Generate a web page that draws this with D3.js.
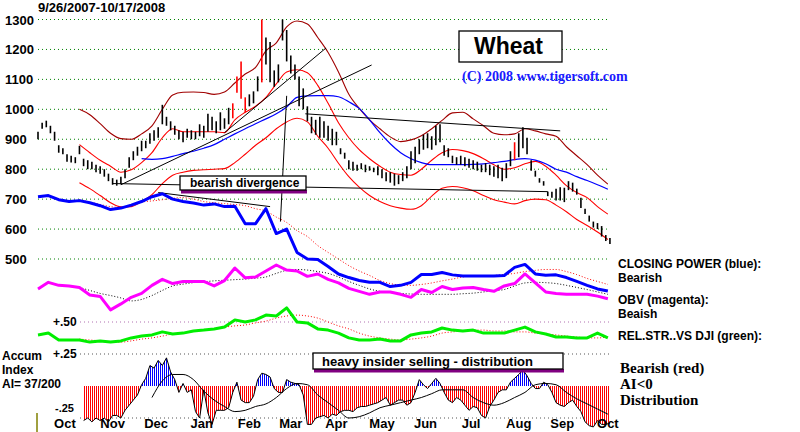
<!DOCTYPE html>
<html><head><meta charset="utf-8">
<script src="https://cdn.jsdelivr.net/npm/d3@7"></script>
<style>body{margin:0;background:#fff}svg{display:block}text{font-family:"Liberation Sans",Arial,sans-serif;font-weight:bold}</style>
</head><body><svg id="c" width="800" height="432"></svg>
<script>
// ---------------- DATA ----------------
const startDate = "2007-09-26";
const lastTradingIndex = 277;
const barStep = 2;      // one bar every 2 trading days
const weekStep = 5;     // weekly series
const priceTicks = [1300,1200,1100,1000,900,800,700,600,500];
const monthNames = ["Oct","Nov","Dec","Jan","Feb","Mar","Apr","May","Jun","Jul","Aug","Sep","Oct"];
const monthDates = ["2007-10-15","2007-11-15","2007-12-14","2008-01-15","2008-02-15","2008-03-14","2008-04-15","2008-05-15","2008-06-13","2008-07-15","2008-08-15","2008-09-15","2008-10-15"];

const priceHigh = [925,955,962,945,925,880,870,850,845,840,878,835,830,825,815,810,800,785,770,765,
775,800,840,860,875,895,895,920,930,940,1015,975,960,945,930,925,935,930,925,950,
945,985,975,960,990,970,1005,1020,1110,1160,1040,1050,1060,1110,1300,1240,1225,1130,1150,1300,
1265,1180,1150,1110,1070,1010,975,965,975,960,945,935,925,870,855,830,825,815,820,815,
810,805,810,800,790,790,785,780,790,810,860,875,900,915,920,910,945,950,880,870,
845,840,845,840,835,830,825,815,820,815,810,815,805,820,860,890,920,940,905,830,
795,770,760,725,725,735,740,738,760,755,735,705,668,645,625,620,610,580,570];
const priceLow = [900,935,940,920,895,855,850,825,822,820,850,810,800,800,790,785,775,760,748,745,
750,770,805,830,845,860,870,885,895,905,950,945,930,915,900,890,905,900,900,910,
905,925,930,920,930,935,950,970,1055,1035,990,1010,1020,1060,1090,1150,1090,1075,1090,1230,
1160,1120,1100,1010,1000,960,920,915,905,905,895,880,880,850,835,800,795,795,800,790,
795,790,780,770,760,755,745,750,760,770,800,820,850,865,870,865,880,890,845,840,
820,815,815,810,805,800,795,790,790,780,775,770,760,770,810,830,840,870,850,795,
775,755,745,710,705,695,695,690,730,725,715,670,650,625,605,600,575,560,550];
const redBars = [47,48,49,50,54,115];

const upperBandStart = 4;
const upperBand = [1000,982,952,920,902,900,918,945,1000,1048,1057,1058,1056,1050,1058,1088,1118,1140,1195,1222,1275,1295,1285,1240,1190,1125,1050,1003,965,935,908,892,898,912,935,963,988,990,968,945,920,915,918,935,928,918,910,875,845,815,780,750];
const midBandStart = 4;
const midBand = [882,855,830,810,790,798,822,855,905,935,925,925,925,925,922,965,990,1010,1040,1085,1125,1132,1122,1080,1020,955,905,865,835,810,790,782,780,800,830,855,866,862,852,835,815,800,805,818,826,810,780,745,722,705,675,650];
const lowBandStart = 4;
const lowBand = [755,735,712,688,674,675,692,715,752,780,790,796,798,800,802,822,850,880,905,935,958,970,958,910,870,820,775,740,712,692,678,670,666,678,710,736,742,738,728,712,698,690,684,695,700,698,680,658,632,612,590,565];
const blueMAStart = 10;
const blueMA = [835,833,835,843,852,860,870,882,900,918,935,952,968,985,1008,1040,1045,1046,1046,1042,1025,1003,965,922,885,855,835,822,815,815,815,815,816,818,822,826,832,835,830,818,800,790,775,762,748,733];

const closingPower = [708,712,698,692,695,688,678,665,670,680,692,708,718,700,692,687,680,684,675,676,618,618,668,585,600,522,500,498,475,450,438,428,422,422,408,412,422,448,448,455,447,443,443,443,443,445,472,482,450,446,447,438,425,412,400,393];
const cpMAStart = 4;
const cpMA = [698,690,682,675,672,680,690,694,698,703,705,700,692,688,685,682,678,668,660,640,622,595,575,545,522,500,478,460,445,428,418,413,412,415,420,427,433,440,443,443,445,448,452,458,462,465,465,458,448,435,425,415];

const obv = [400,422,412,410,405,380,375,330,350,372,385,412,432,418,425,425,425,410,428,470,437,440,460,480,463,460,442,450,432,420,402,392,382,390,390,382,372,398,388,408,398,403,405,398,392,410,418,450,420,390,385,382,382,382,376,367];
const obvMAStart = 4;
const obvMA = [405,395,385,378,370,360,365,378,395,410,416,421,424,427,429,431,433,436,440,452,462,465,463,458,452,440,425,412,400,392,388,385,383,382,382,382,382,384,386,390,394,398,410,420,422,421,418,412,405,398,390,382];

const relStr = [.457,.463,.440,.440,.440,.433,.437,.433,.437,.447,.453,.457,.467,.460,.463,.470,.473,.477,.483,.507,.500,.507,.523,.520,.547,.500,.497,.477,.473,.463,.447,.440,.440,.443,.437,.437,.457,.463,.467,.480,.473,.470,.473,.463,.463,.463,.473,.483,.467,.460,.450,.450,.447,.447,.463,.447];
const relStrMAStart = 4;
const relStrMA = [.443,.440,.437,.433,.433,.437,.443,.447,.453,.460,.463,.470,.473,.477,.483,.487,.490,.497,.503,.513,.520,.523,.520,.513,.500,.487,.477,.463,.453,.447,.443,.440,.443,.447,.453,.463,.467,.470,.473,.473,.470,.470,.467,.467,.463,.460,.457,.453,.450,.447,.447,.450];

const accumStart = 11; // in bars
const accum = [-0.27,-0.25,-0.28,-0.25,-0.27,-0.25,-0.28,-0.23,-0.23,-0.25,-0.19,-0.15,-0.11,-0.07,0.01,0.06,0.16,0.14,0.20,0.16,
0.22,0.11,0.05,-0.05,0.02,-0.05,-0.03,-0.20,-0.25,-0.03,-0.21,-0.30,-0.19,-0.19,-0.19,-0.17,-0.05,0.03,-0.11,-0.13,
-0.13,-0.08,0.05,0.10,0.09,0.07,-0.02,-0.05,-0.05,0.05,0.03,0.02,0.01,-0.07,-0.30,-0.30,-0.25,-0.24,-0.23,-0.25,
-0.22,-0.23,-0.20,-0.19,-0.19,-0.20,-0.17,-0.16,-0.16,-0.15,-0.14,-0.13,-0.11,-0.09,-0.15,-0.13,-0.11,-0.11,-0.15,-0.13,
-0.05,0.05,0.01,-0.02,0.02,0.06,0.02,-0.05,-0.11,-0.13,-0.09,-0.11,-0.15,-0.19,-0.16,-0.17,-0.23,-0.25,-0.16,-0.11,
-0.05,-0.03,-0.03,0.03,0.06,0.09,0.125,0.08,0.02,-0.02,-0.02,0.03,0.01,-0.05,-0.13,-0.15,-0.16,-0.13,-0.11,-0.16,
-0.20,-0.28,-0.31,-0.32,-0.27,-0.30,-0.30,-0.29];
const accumMAStart = 11; // in weeks
const accumMA = [-0.09,0.04,0.09,0.09,0.05,-0.04,-0.11,-0.16,-0.20,-0.19,-0.16,-0.14,-0.09,-0.02,0.02,0.01,-0.07,-0.13,-0.19,-0.25,-0.24,-0.21,-0.17,-0.15,-0.13,-0.11,-0.09,-0.06,-0.03,-0.03,-0.03,-0.09,-0.13,-0.15,-0.13,-0.09,-0.05,0.01,0.02,0.01,-0.05,-0.10,-0.14,-0.18,-0.22];

// trend lines: [tradingIndex0, price0, tradingIndex1, price1]
const trendLines = [[40,748,161,1148],[90,922,139,1205],[129,985,252,928],[36,752,246,725],[58,722,112,675],[117,625,120,1045]];

// ---------------- DRAW ----------------
const svg = d3.select("#c");
const days = [];
{ let d = new Date(startDate + "T00:00:00Z"); while (days.length < 300) { const w = d.getUTCDay(); if (w > 0 && w < 6) days.push(new Date(d)); d.setUTCDate(d.getUTCDate() + 1); } }
const dayIndex = s => { const t = Date.parse(s + "T00:00:00Z"); return days.findIndex(d => +d >= t); };

const x = d3.scaleLinear().domain([0, lastTradingIndex]).range([38, 612]);
const yP = d3.scaleLinear().domain([500, 1300]).range([259, 19.5]);
const yR = d3.scaleLinear().domain([0.4, 0.5]).range([352, 322]);
const yA = d3.scaleLinear().domain([-0.25, 0.25]).range([418, 354]);

const weekly = (arr, start) => arr.map((v, i) => ({i: (start + i) * weekStep, v}));
const gridG = svg.append("g");
priceTicks.forEach(t => {
  gridG.append("line").attr("x1", 38).attr("x2", 610).attr("y1", yP(t)).attr("y2", yP(t))
    .attr("stroke", "#008000").attr("stroke-dasharray", "1,3");
  svg.append("text").attr("x", 5).attr("y", yP(t) + 5).attr("font-size", 13).text(t);
});
gridG.append("line").attr("x1", 80).attr("x2", 610).attr("y1", yR(0.5)).attr("y2", yR(0.5)).attr("stroke", "#b070b0").attr("stroke-dasharray", "1,3");
[0.25, -0.25].forEach(t => gridG.append("line").attr("x1", 80).attr("x2", 610).attr("y1", yA(t)).attr("y2", yA(t)).attr("stroke", "#555").attr("stroke-dasharray", "1,3"));

svg.append("text").attr("x", 38).attr("y", 12).attr("font-size", 13).text("9/26/2007-10/17/2008");

const line = (yS, curve) => d3.line().x(d => x(d.i)).y(d => yS(d.v)).curve(curve || d3.curveLinear);
const drawLine = (data, yS, color, width, dash, curve) => svg.append("path").datum(data).attr("d", line(yS, curve)(data))
  .attr("fill", "none").attr("stroke", color).attr("stroke-width", width).attr("stroke-dasharray", dash || null).attr("stroke-linejoin", "round");

// bands and MAs
drawLine(weekly(upperBand, upperBandStart), yP, "#a00000", 1.1, null, d3.curveMonotoneX);
drawLine(weekly(midBand, midBandStart), yP, "#ff0000", 1.1, null, d3.curveMonotoneX);
drawLine(weekly(lowBand, lowBandStart), yP, "#ff0000", 1.1, null, d3.curveMonotoneX);
drawLine(weekly(blueMA, blueMAStart), yP, "#0000ff", 1.2, null, d3.curveMonotoneX);

// trend lines
svg.append("g").selectAll("line").data(trendLines).join("line")
  .attr("x1", d => x(d[0])).attr("y1", d => yP(d[1])).attr("x2", d => x(d[2])).attr("y2", d => yP(d[3]))
  .attr("stroke", "#000").attr("stroke-width", 1);

// price bars
svg.append("g").selectAll("line").data(priceHigh.map((h, k) => ({k, h, l: priceLow[k]}))).join("line")
  .attr("x1", d => x(d.k * barStep)).attr("x2", d => x(d.k * barStep))
  .attr("y1", d => yP(d.h)).attr("y2", d => yP(d.l))
  .attr("stroke", d => redBars.includes(d.k) ? "#ff0000" : "#000").attr("stroke-width", 1.6);

// closing power, OBV
drawLine(weekly(cpMA, cpMAStart), yP, "#ff0000", 1, "1,2", d3.curveMonotoneX);
drawLine(weekly(obvMA, obvMAStart), yP, "#000", 1, "1,2", d3.curveMonotoneX);
drawLine(weekly(closingPower, 0), yP, "#0000ff", 3);
drawLine(weekly(obv, 0), yP, "#ff00ff", 3);

// relative strength
drawLine(weekly(relStrMA, relStrMAStart), yR, "#ff0000", 1, "1,2", d3.curveMonotoneX);
drawLine(weekly(relStr, 0), yR, "#00ee00", 3);

// accumulation index histogram
const defs = svg.append("defs");
[["redStripes", "#ff0000"], ["blueStripes", "#0000ff"]].forEach(([id, c]) => {
  const p = defs.append("pattern").attr("id", id).attr("patternUnits", "userSpaceOnUse").attr("width", 2).attr("height", 20);
  p.append("rect").attr("width", 1).attr("height", 20).attr("fill", c);
});
defs.append("clipPath").attr("id", "above").append("rect").attr("x", 0).attr("y", 330).attr("width", 800).attr("height", yA(0) - 330);
defs.append("clipPath").attr("id", "below").append("rect").attr("x", 0).attr("y", yA(0)).attr("width", 800).attr("height", 100);
const aiData = accum.map((v, j) => ({i: (accumStart + j) * barStep, v}));
const aiArea = d3.area().x(d => x(d.i)).y0(yA(0)).y1(d => yA(d.v));
svg.append("path").attr("d", aiArea(aiData)).attr("fill", "url(#blueStripes)").attr("clip-path", "url(#above)");
svg.append("path").attr("d", aiArea(aiData)).attr("fill", "url(#redStripes)").attr("clip-path", "url(#below)");
drawLine(aiData, yA, "#000", 1);
drawLine(weekly(accumMA, accumMAStart), yA, "#000", 1, null, d3.curveMonotoneX);

// month labels
monthNames.forEach((m, j) => svg.append("text").attr("x", x(dayIndex(monthDates[j]))).attr("y", 428)
  .attr("text-anchor", "middle").attr("font-size", 13).text(m));
svg.append("line").attr("x1", 37).attr("x2", 37).attr("y1", 413).attr("y2", 432).attr("stroke", "#808000").attr("stroke-width", 1.5);

// left labels
svg.append("text").attr("x", 53).attr("y", 326).attr("font-size", 12).text("+.50");
svg.append("text").attr("x", 53).attr("y", 358).attr("font-size", 12).text("+.25");
svg.append("text").attr("x", 55).attr("y", 412).attr("font-size", 11).text("-.25");
[["Accum", 360], ["Index", 374], ["AI= 37/200", 388]].forEach(([t, y]) => svg.append("text").attr("x", 2).attr("y", y).attr("font-size", 12).text(t));

// right labels
[["CLOSING POWER (blue):", 268], ["Bearish", 282], ["OBV (magenta):", 304], ["Beaish", 318], ["REL.STR..VS DJI (green):", 340]]
  .forEach(([t, y]) => svg.append("text").attr("x", 618).attr("y", y).attr("font-size", 12).text(t));
[["Bearish (red)", 373], ["AI<0", 389], ["Distribution", 405]]
  .forEach(([t, y]) => svg.append("text").attr("x", 620).attr("y", y).attr("font-size", 15)
    .style("font-family", '"Liberation Serif","Times New Roman",serif').text(t));

// boxes
function box(x0, y0, w, h, txt, size, tx, ty, bar) {
  if (bar) svg.append("rect").attr("x", x0 + 1).attr("y", y0 + h).attr("width", w).attr("height", 3.5).attr("fill", "#800080");
  svg.append("rect").attr("x", x0).attr("y", y0).attr("width", w).attr("height", h).attr("fill", "#fff").attr("stroke", "#000").attr("stroke-width", 1.3);
  svg.append("text").attr("x", tx).attr("y", ty).attr("font-size", size).text(txt);
}
box(459, 31, 103, 31, "Wheat", 23, 474, 54, false);
box(180, 176, 126, 14, "bearish divergence", 12, 190, 187, true);
box(313, 353, 250, 16, "heavy insider selling - distribution", 13, 322, 366, true);
svg.append("text").attr("x", 462).attr("y", 81).attr("font-size", 14).attr("fill", "#1a1aff")
  .style("font-family", '"Liberation Serif","Times New Roman",serif').text("(C) 2008 www.tigersoft.com");
</script></body></html>
